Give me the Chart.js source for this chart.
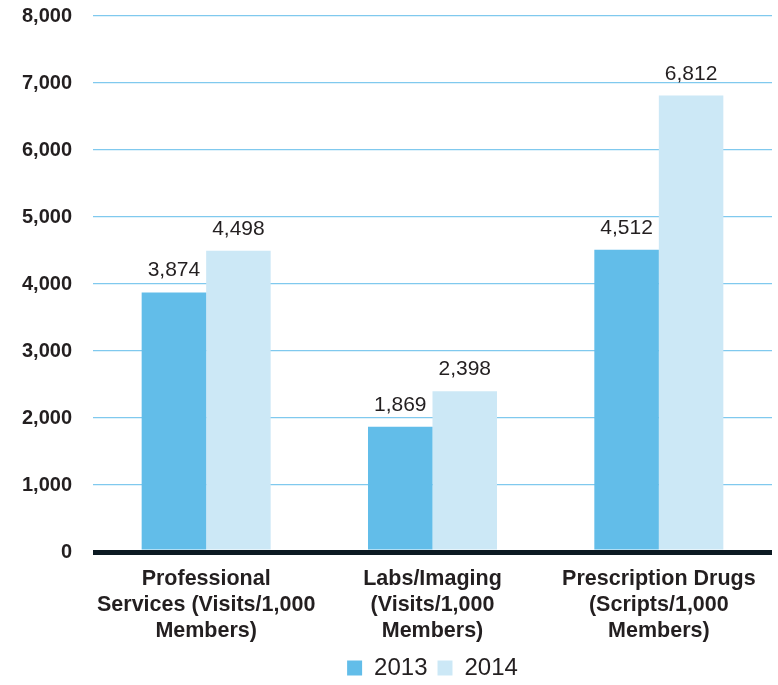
<!DOCTYPE html>
<html>
<head>
<meta charset="utf-8">
<script src="https://cdn.jsdelivr.net/npm/chart.js@4/dist/chart.umd.min.js"></script>
<style>
  html, body { margin: 0; padding: 0; background: #fff; }
  #wrap { width: 778px; height: 685px; }
</style>
</head>
<body>
<div id="wrap"><canvas id="utilChart" width="778" height="685"></canvas></div>
<script>
var categories = [
    ['Professional', 'Services (Visits/1,000', 'Members)'],
    ['Labs/Imaging', '(Visits/1,000', 'Members)'],
    ['Prescription Drugs', '(Scripts/1,000', 'Members)']
];
var years = ['2013', '2014'];
var values2013 = [3874, 1869, 4512];
var values2014 = [4498, 2398, 6812];
var yTicks = [0, 1000, 2000, 3000, 4000, 5000, 6000, 7000, 8000];

var colors = { y2013: '#62bde9', y2014: '#cce8f6', grid: '#80c9ee', zero: '#0c1a22', text: '#231f20' };
var fontFamily = "'Liberation Sans', Arial, Helvetica, sans-serif";

function fmt(v) { return v.toLocaleString('en-US'); }

// value labels above each bar
var barValues = {
    id: 'barValues',
    afterDatasetsDraw: function(chart) {
        var ctx = chart.ctx;
        ctx.save();
        ctx.font = '21px ' + fontFamily;
        ctx.fillStyle = colors.text;
        ctx.textAlign = 'center';
        ctx.textBaseline = 'alphabetic';
        chart.data.datasets.forEach(function(ds, i) {
            chart.getDatasetMeta(i).data.forEach(function(bar, j) {
                ctx.fillText(fmt(ds.data[j]), bar.x, bar.y - 16);
            });
        });
        ctx.restore();
    }
};

var chart = new Chart(document.getElementById('utilChart'), {
    type: 'bar',
    data: {
        labels: categories,
        datasets: [{
            label: years[0],
            data: values2013,
            backgroundColor: colors.y2013,
            borderWidth: 0
        }, {
            label: years[1],
            data: values2014,
            backgroundColor: colors.y2014,
            borderWidth: 0
        }]
    },
    options: {
        responsive: false,
        animation: false,
        layout: { padding: { left: 5, right: 6, top: 16, bottom: -5 } },
        datasets: { bar: { barPercentage: 1, categoryPercentage: 0.57 } },
        plugins: {
            tooltip: { enabled: false },
            legend: {
                position: 'bottom',
                fullSize: false,
                labels: {
                    boxWidth: 15,
                    boxHeight: 15,
                    padding: 10,
                    color: colors.text,
                    font: { family: fontFamily, size: 24 }
                }
            }
        },
        scales: {
            x: {
                grid: { display: false, drawTicks: false },
                border: { display: false },
                afterFit: function(scale) { scale.height = 94; },
                ticks: {
                    color: colors.text,
                    padding: 14,
                    maxRotation: 0,
                    autoSkip: false,
                    font: { family: fontFamily, size: 21.5, weight: 'bold', lineHeight: 1.21 }
                }
            },
            y: {
                min: 0,
                max: 8000,
                afterBuildTicks: function(scale) {
                    scale.ticks = yTicks.map(function(v) { return { value: v }; });
                },
                afterFit: function(scale) {
                    scale.width = 88;
                    scale.paddingTop = 0;
                    scale.paddingBottom = 0;
                },
                border: { display: false },
                grid: {
                    drawTicks: false,
                    color: function(c) { return c.tick.value === 0 ? colors.zero : colors.grid; },
                    lineWidth: function(c) { return c.tick.value === 0 ? 5 : 1.2; }
                },
                ticks: {
                    color: colors.text,
                    padding: 21,
                    font: { family: fontFamily, size: 20, weight: 'bold' },
                    callback: function(v) { return fmt(v); }
                }
            }
        }
    },
    plugins: [barValues]
});
</script>
</body>
</html>
